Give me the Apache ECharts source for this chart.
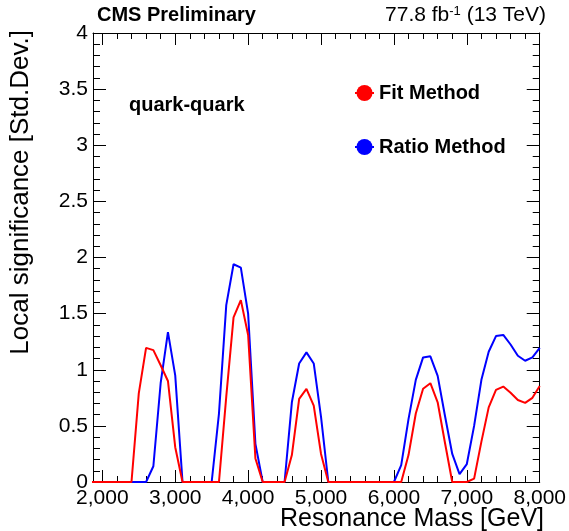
<!DOCTYPE html>
<html>
<head>
<meta charset="utf-8">
<script src="https://cdn.jsdelivr.net/npm/echarts@6/dist/echarts.min.js"></script>
<style>
  html, body { margin: 0; padding: 0; background: #ffffff; }
  #chart { width: 569px; height: 531px; }
</style>
</head>
<body>
<div id="chart"></div>
<script>
// Resonance mass points (GeV)
const massGeV = [
  1800, 1900, 2000, 2100, 2200, 2300, 2400, 2500, 2600, 2700,
  2800, 2900, 3000, 3100, 3200, 3300, 3400, 3500, 3600, 3700,
  3800, 3900, 4000, 4100, 4200, 4300, 4400, 4500, 4600, 4700,
  4800, 4900, 5000, 5100, 5200, 5300, 5400, 5500, 5600, 5700,
  5800, 5900, 6000, 6100, 6200, 6300, 6400, 6500, 6600, 6700,
  6800, 6900, 7000, 7100, 7200, 7300, 7400, 7500, 7600, 7700,
  7800, 7900, 8000
];

// Local significance from the fit method
const fitMethod = [
  0, 0, 0, 0, 0, 0, 0, 0.79, 1.195, 1.175,
  1.04, 0.90, 0.31, 0, 0, 0, 0, 0, 0, 0.76,
  1.466, 1.62, 1.31, 0.21, 0, 0, 0, 0, 0.24, 0.74,
  0.83, 0.68, 0.25, 0, 0, 0, 0, 0, 0, 0,
  0, 0, 0, 0, 0.24, 0.61, 0.83, 0.88, 0.71, 0.35,
  0, 0, 0, 0.03, 0.36, 0.665, 0.82, 0.85, 0.795, 0.73,
  0.705, 0.75, 0.855
];

// Local significance from the ratio method
const ratioMethod = [
  0, 0, 0, 0, 0, 0, 0, 0, 0, 0.14,
  0.88, 1.335, 0.95, 0, 0, 0, 0, 0, 0.61, 1.576,
  1.94, 1.91, 1.50, 0.34, 0, 0, 0, 0, 0.71, 1.056,
  1.155, 1.056, 0.58, 0, 0, 0, 0, 0, 0, 0,
  0, 0, 0, 0.15, 0.56, 0.91, 1.11, 1.12, 0.945, 0.59,
  0.25, 0.07, 0.16, 0.5, 0.91, 1.16, 1.30, 1.31, 1.225, 1.125,
  1.08, 1.11, 1.195
];

// Mass axis ticks
const massMajorTicks = [2000, 3000, 4000, 5000, 6000, 7000, 8000];
const massMinorTicks = [
  2200, 2400, 2600, 2800, 3200, 3400, 3600, 3800, 4200, 4400,
  4600, 4800, 5200, 5400, 5600, 5800, 6200, 6400, 6600, 6800,
  7200, 7400, 7600, 7800
];

const FONT = '"Liberation Sans", Arial, Helvetica, sans-serif';
const MASS_MIN = 1872;
const MASS_MAX = 8000;

const chart = echarts.init(document.getElementById('chart'), null, { renderer: 'canvas' });

function massAxis(position, ticks, tickLen, withLabels, withLine) {
  return {
    type: 'value',
    position: position,
    min: MASS_MIN,
    max: MASS_MAX,
    axisLine: { show: withLine, onZero: false, lineStyle: { color: '#000', width: 1 } },
    axisTick: {
      show: true, inside: true, length: tickLen, customValues: ticks,
      lineStyle: { color: '#000', width: 1 }
    },
    axisLabel: withLabels ? {
      show: true, customValues: massMajorTicks, margin: 6,
      color: '#000', fontSize: 21, fontFamily: FONT, hideOverlap: false,
      showMinLabel: true, showMaxLabel: true
    } : { show: false },
    splitLine: { show: false },
    minorTick: { show: false }
  };
}

function sigAxis(position, withLabels) {
  return {
    type: 'value',
    position: position,
    min: 0,
    max: 4,
    interval: 0.5,
    axisLine: { show: true, onZero: false, lineStyle: { color: '#000', width: 1 } },
    axisTick: { show: true, inside: true, length: 13, lineStyle: { color: '#000', width: 1 } },
    minorTick: { show: true, splitNumber: 5, length: 7, lineStyle: { color: '#000', width: 1 } },
    axisLabel: withLabels ? {
      show: true, margin: 5, color: '#000', fontSize: 21, fontFamily: FONT,
      showMinLabel: true, showMaxLabel: true
    } : { show: false },
    splitLine: { show: false },
    minorSplitLine: { show: false }
  };
}

const option = {
  animation: false,
  backgroundColor: '#ffffff',
  grid: { left: 93, right: 25, top: 33, bottom: 49, containLabel: false },
  xAxis: [
    massAxis('bottom', massMajorTicks, 12, true, true),
    massAxis('bottom', massMinorTicks, 6, false, false),
    massAxis('top', massMajorTicks, 12, false, true),
    massAxis('top', massMinorTicks, 6, false, false)
  ],
  yAxis: [
    sigAxis('left', true),
    sigAxis('right', false)
  ],
  legend: {
    orient: 'vertical',
    left: 349,
    top: 78,
    itemWidth: 19,
    itemHeight: 20,
    itemGap: 34,
    data: ['Fit Method', 'Ratio Method'],
    textStyle: { color: '#000', fontSize: 20, fontWeight: 'bold', fontFamily: FONT },
    selectedMode: false
  },
  series: [
    {
      name: 'Ratio Method',
      type: 'line',
      xAxisIndex: 0,
      yAxisIndex: 0,
      data: massGeV.map((m, i) => [m, ratioMethod[i]]),
      symbol: 'none',
      clip: true,
      lineStyle: { color: '#0000ff', width: 2 },
      itemStyle: { color: '#0000ff' },
      z: 3
    },
    {
      name: 'Fit Method',
      type: 'line',
      xAxisIndex: 0,
      yAxisIndex: 0,
      data: massGeV.map((m, i) => [m, fitMethod[i]]),
      symbol: 'none',
      clip: true,
      lineStyle: { color: '#ff0000', width: 2 },
      itemStyle: { color: '#ff0000' },
      z: 4
    }
  ],
  graphic: [
    {
      type: 'text', x: 97, y: 15,
      style: { text: 'CMS Preliminary', fill: '#000', fontSize: 20, fontWeight: 'bold', fontFamily: FONT, align: 'left', verticalAlign: 'middle' }
    },
    {
      type: 'text', x: 546, y: 15,
      style: {
        text: '{a|77.8 fb}{s|-1}{a| (13 TeV)}',
        align: 'right', verticalAlign: 'middle',
        rich: {
          a: { fontSize: 21, fontFamily: FONT, fill: '#000' },
          s: { fontSize: 13, fontFamily: FONT, fill: '#000', verticalAlign: 'top' }
        }
      }
    },
    {
      type: 'text', x: 129, y: 105,
      style: { text: 'quark-quark', fill: '#000', fontSize: 20, fontWeight: 'bold', fontFamily: FONT, align: 'left', verticalAlign: 'middle' }
    },
    {
      type: 'text', x: 544, y: 519,
      style: { text: 'Resonance Mass [GeV]', fill: '#000', fontSize: 25, fontFamily: FONT, align: 'right', verticalAlign: 'middle' }
    },
    {
      type: 'text', x: 21, y: 30, rotation: Math.PI / 2,
      style: { text: 'Local significance [Std.Dev.]', fill: '#000', fontSize: 26, fontFamily: FONT, align: 'right', verticalAlign: 'middle' }
    }
  ]
};

chart.setOption(option);
</script>
</body>
</html>
